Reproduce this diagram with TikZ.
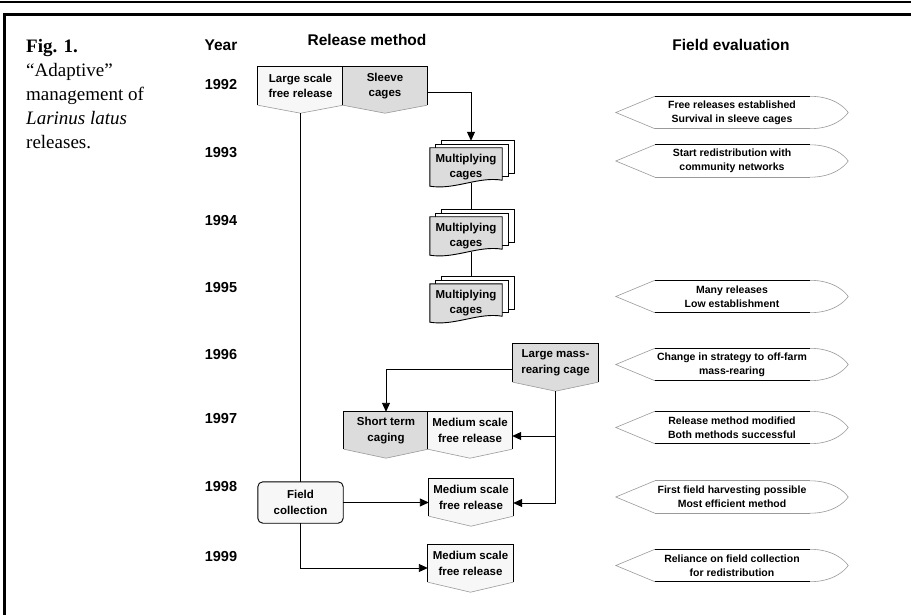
\documentclass[tikz,border=0pt]{standalone}
\usepackage{fontspec}
\setmainfont{Liberation Serif}
\setsansfont{Liberation Sans}
\usetikzlibrary{arrows.meta,calc,backgrounds}
\definecolor{lightf}{HTML}{F7F7F7}
\definecolor{darkf}{HTML}{DCDCDC}
\definecolor{edgegray}{HTML}{9A9A9A}
\tikzset{
  relbox/.style={rectangle, inner sep=0pt, align=center, font=\sffamily\bfseries\fontsize{11.5}{15.5}\selectfont},
  evalbox/.style={rectangle, inner sep=0pt, align=center, minimum width=232pt, minimum height=32pt, font=\sffamily\bfseries\fontsize{10.5}{14}\selectfont},
  yearlbl/.style={inner sep=0pt, font=\sffamily\bfseries\fontsize{14.5}{16}\selectfont},
  headlbl/.style={inner sep=0pt, font=\sffamily\bfseries\fontsize{15.5}{17}\selectfont},
  conn/.style={line width=0.9pt},
  arr/.style={conn, -{Triangle[length=9pt,width=8pt]}},
}
\newcommand\chevshape[3]{%
  \coordinate (#1-tip) at ($(#1.south)+(0,#3)$);
  \fill[#2] (#1.north west) -- (#1.north east) -- (#1.south east) -- (#1-tip) -- (#1.south west) -- cycle;
  \draw[edgegray, line width=0.6pt] (#1.south east) -- (#1-tip) -- (#1.south west);
  \draw[black, line width=0.9pt] (#1.south west) -- (#1.north west) -- (#1.north east) -- (#1.south east);
}
\newcommand\multidoc[1]{%
  \filldraw[fill=white, line width=0.9pt] ($(#1.north west)+(12,-7)$) rectangle ($(#1.south east)+(12,-13)$);
  \filldraw[fill=white, line width=0.9pt] ($(#1.north west)+(6,-3.5)$) rectangle ($(#1.south east)+(6,-9.5)$);
  \filldraw[fill=darkf, line width=0.9pt] (#1.north west) -- (#1.north east) -- ($(#1.south east)+(0,-6)$)
     .. controls ($(#1.south east)+(-24,-10)$) and ($(#1.south west)+(25,4)$) .. (#1.south west) -- cycle;
  \coordinate (#1-top) at ($(#1.north)+(5,-7)$);
  \coordinate (#1-bot) at ($(#1.south)+(5,-3)$);
}
\newcommand\evalshape[3]{%
  \fill[white] ($(#1.north west)+(39,0)$) -- (#1.west) -- ($(#1.south west)+(39,0)$) -- ($(#1.south east)+(-38,0)$) -- (#1.east) -- ($(#1.north east)+(-38,0)$) -- cycle;
  \draw[edgegray, line width=0.6pt] ($(#1.north west)+(39,0)$) -- (#1.west) -- ($(#1.south west)+(39,0)$);
  \draw[edgegray, line width=0.6pt] ($(#1.north east)+(-38,0)$) .. controls ($(#1.north east)+(-16,0)$) and ($(#1.east)+(-4,-6)$) .. (#1.east)
     .. controls ($(#1.east)+(-4,6)$) and ($(#1.south east)+(-16,0)$) .. ($(#1.south east)+(-38,0)$);
  \draw[#2, line width=0.8pt] ($(#1.north west)+(39,0)$) -- ($(#1.north east)+(-38,0)$);
  \draw[#3, line width=0.8pt] ($(#1.south west)+(39,0)$) -- ($(#1.south east)+(-38,0)$);
}
\begin{document}
\begin{tikzpicture}[x=1pt,y=-1pt]
\useasboundingbox (0,0) rectangle (911,615);
% frame
\draw[line width=2.5pt] (0,2) -- (911,2);
\draw[line width=3pt] (4.5,615) -- (4.5,14.5) -- (911,14.5);
% caption
\node[anchor=north west, align=left, inner sep=0pt, font=\fontsize{19}{24}\selectfont] (fig) at (26,39)
  {\textbf{Fig. 1.}\\“Adaptive”\\management of\\\textit{Larinus latus}\\releases.};
% headings
\node[headlbl] (hyear) at (221,45) {Year};
\node[headlbl] (hrel) at (367,40) {Release method};
\node[headlbl] (hfield) at (731,45) {Field evaluation};
% years
\node[yearlbl] (y92) at (221,84.5) {1992};
\node[yearlbl] (y93) at (221,152.5) {1993};
\node[yearlbl] (y94) at (221,221) {1994};
\node[yearlbl] (y95) at (221,288) {1995};
\node[yearlbl] (y96) at (221,355) {1996};
\node[yearlbl] (y97) at (221,419) {1997};
\node[yearlbl] (y98) at (221,487) {1998};
\node[yearlbl] (y99) at (221,557) {1999};
% release method nodes
\node[relbox, minimum width=85pt, minimum height=38pt] (lsfr) at (300.5,86) {Large scale\\free release};
\node[relbox, minimum width=84pt, minimum height=38pt] (sc) at (385,86) {Sleeve\\cages};
\node[relbox, minimum width=72pt, minimum height=38pt] (mc1) at (466,167) {Multiplying\\cages};
\node[relbox, minimum width=72pt, minimum height=38pt] (mc2) at (466,236) {Multiplying\\cages};
\node[relbox, minimum width=72pt, minimum height=38pt] (mc3) at (466,303) {Multiplying\\cages};
\node[relbox, minimum width=85pt, minimum height=38pt] (lmr) at (555.5,363) {Large mass-\\rearing cage};
\node[relbox, minimum width=84pt, minimum height=37pt] (stc) at (386,430.5) {Short term\\caging};
\node[relbox, minimum width=84pt, minimum height=37pt] (m97) at (470,430.5) {Medium scale\\free release};
\node[relbox, minimum width=84pt, minimum height=37pt] (m98) at (471,497.5) {Medium scale\\free release};
\node[relbox, minimum width=85pt, minimum height=37pt] (m99) at (470.5,563.5) {Medium scale\\free release};
\node[relbox, minimum width=85pt, minimum height=41pt] (fc) at (300.5,502.5) {Field\\collection};
% evaluation nodes
\node[evalbox] (e1) at (732,112.5) {Free releases established\\Survival in sleeve cages};
\node[evalbox] (e2) at (732,161) {Start redistribution with\\community networks};
\node[evalbox] (e3) at (732,296.5) {Many releases\\Low establishment};
\node[evalbox] (e4) at (732,364.5) {Change in strategy to off-farm\\mass-rearing};
\node[evalbox] (e5) at (732,427.5) {Release method modified\\Both methods successful};
\node[evalbox] (e6) at (732,497) {First field harvesting possible\\Most efficient method};
\node[evalbox] (e7) at (732,565.5) {Reliance on field collection\\for redistribution};
% shapes behind text
\begin{scope}[on background layer]
  \fill[white] (0,0) rectangle (911,615);
  \chevshape{lsfr}{lightf}{8}
  \chevshape{sc}{darkf}{8}
  \chevshape{lmr}{darkf}{9}
  \chevshape{stc}{darkf}{9}
  \chevshape{m97}{lightf}{9}
  \chevshape{m98}{lightf}{10}
  \chevshape{m99}{lightf}{10}
  \multidoc{mc1}
  \multidoc{mc2}
  \multidoc{mc3}
  \filldraw[fill=lightf, line width=0.9pt, rounded corners=5pt] (fc.north west) rectangle (fc.south east);
  \evalshape{e1}{black}{edgegray}
  \evalshape{e2}{black}{edgegray}
  \evalshape{e3}{black}{black}
  \evalshape{e4}{black}{black}
  \evalshape{e5}{black}{black}
  \evalshape{e6}{edgegray}{edgegray}
  \evalshape{e7}{black}{black}
\end{scope}
% connectors
\draw[arr] ([yshift=-6pt]sc.east) -| (mc1-top);
\draw[conn] (mc1-bot) -- (mc2-top);
\draw[conn] (mc2-bot) -- (mc3-top);
\draw[conn] (lsfr-tip) -- (fc.north);
\draw[arr] ([yshift=-6pt]lmr.west) -| (stc.north);
\coordinate (m97e) at ([yshift=-5.5pt]m97.east);
\coordinate (m98e) at ([yshift=-5.5pt]m98.east);
\draw[arr] (lmr-tip) |- (m98e);
\draw[arr] (lmr-tip |- m97e) -- (m97e);
\draw[arr] (fc.east) -- (fc.east -| m98.west);
\draw[arr] (fc.south) |- ([yshift=-4.5pt]m99.west);
\end{tikzpicture}
\end{document}
